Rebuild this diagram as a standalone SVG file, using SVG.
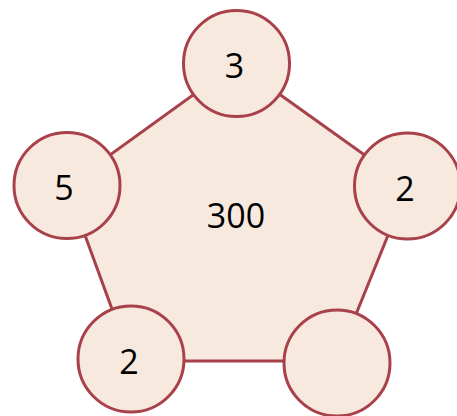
<svg xmlns="http://www.w3.org/2000/svg" width="457" height="416" viewBox="0 0 457 416">
<style>
.s{fill:#f8e9df;stroke:#a8414a;stroke-width:3}
.t{font-family:"Open Sans","Liberation Sans",sans-serif;font-size:34px;fill:#000;text-anchor:middle;dominant-baseline:central}
</style>
<g id="edges">
<polygon class="s" points="236.5,63.5 408,186 337,361 131,361 67,186"/>
</g>
<text class="t" x="236" y="215">300</text>
<g id="n1"><circle class="s" cx="236.5" cy="63.5" r="53"/><text class="t" x="234.5" y="65">3</text></g>
<g id="n2"><circle class="s" cx="407.5" cy="186" r="53"/><text class="t" x="405" y="188">2</text></g>
<g id="n3"><circle class="s" cx="337" cy="363" r="53"/></g>
<g id="n4"><circle class="s" cx="131" cy="359" r="53"/><text class="t" x="129" y="361">2</text></g>
<g id="n5"><circle class="s" cx="67" cy="185.5" r="53"/><text class="t" x="64" y="187">5</text></g>
</svg>
